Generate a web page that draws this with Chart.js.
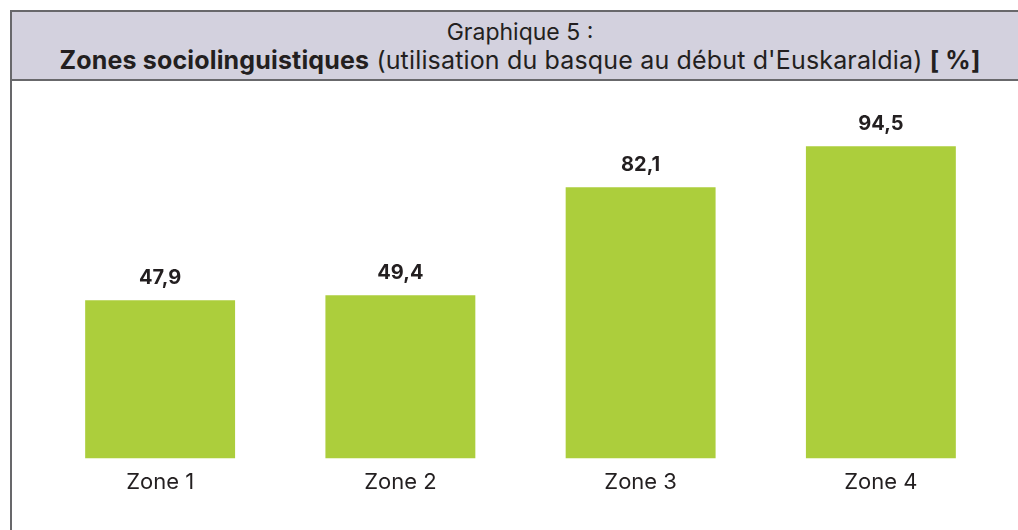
<!DOCTYPE html>
<html>
<head>
<meta charset="utf-8">
<script src="https://cdn.jsdelivr.net/npm/chart.js@4/dist/chart.umd.min.js"></script>
<style>
  body { margin: 0; background: #fff; font-family: Inter, "Open Sans", sans-serif; color: #231f20; }
  #frame { position: absolute; left: 10px; top: 10px; width: 1020px; height: 540px; border: 2px solid #68686b; box-sizing: border-box; }
  #head { height: 69px; background: #d3d1de; border-bottom: 2px solid #68686b; box-sizing: border-box; text-align: center; }
  #l1 { position: absolute; left: 0; right: 0; top: 9px; font-size: 23px; line-height: 1; }
  #l2 { position: absolute; left: 0; right: 0; top: 36px; font-size: 25px; line-height: 1; letter-spacing: 0.16px; }
  #wrap { position: absolute; left: 0; top: 80px; width: 1018px; height: 450px; }
</style>
</head>
<body>
<div id="frame">
  <div id="head">
    <div id="l1">Graphique 5 :</div>
    <div id="l2"><b>Zones sociolinguistiques</b> (utilisation du basque au début d'Euskaraldia) <b>[ %]</b></div>
  </div>
</div>
<div id="wrap"><canvas id="chart"></canvas></div>
<script>
var zones = ['Zone 1', 'Zone 2', 'Zone 3', 'Zone 4'];
var usage = [47.9, 49.4, 82.1, 94.5];

// draws the value above each bar
var valueLabels = {
  id: 'valueLabels',
  afterDatasetsDraw: function(chart) {
    var ctx = chart.ctx;
    var meta = chart.getDatasetMeta(0);
    ctx.save();
    ctx.font = 'bold 20px Inter, "Open Sans", sans-serif';
    ctx.fillStyle = '#231f20';
    ctx.textAlign = 'center';
    ctx.textBaseline = 'alphabetic';
    meta.data.forEach(function(bar, i) {
      ctx.fillText(String(usage[i]).replace('.', ','), bar.x, bar.y - 16);
    });
    ctx.restore();
  }
};

new Chart(document.getElementById('chart'), {
  type: 'bar',
  data: {
    labels: zones,
    datasets: [{
      data: usage,
      backgroundColor: '#acce3c',
      barPercentage: 0.624,
      categoryPercentage: 1
    }]
  },
  options: {
    responsive: true,
    maintainAspectRatio: false,
    animation: false,
    layout: { padding: { left: 40, right: 17, top: 48, bottom: 23 } },
    plugins: { legend: { display: false }, tooltip: { enabled: false } },
    scales: {
      x: {
        grid: { display: false, drawTicks: false },
        border: { display: false },
        ticks: { color: '#231f20', padding: 11, font: { family: 'Inter, "Open Sans", sans-serif', size: 22 } }
      },
      y: { display: false, min: 0, max: 100 }
    }
  },
  plugins: [valueLabels]
});
</script>
</body>
</html>
